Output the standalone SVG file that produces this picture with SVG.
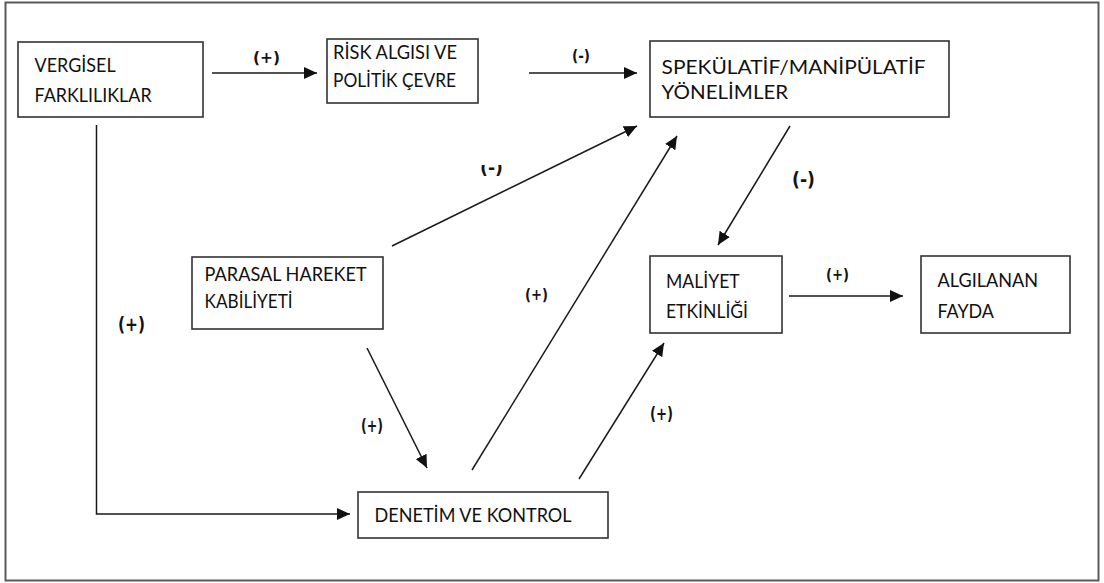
<svg xmlns="http://www.w3.org/2000/svg" width="1104" height="583" viewBox="0 0 1104 583">
<style>
.frame{fill:#fff;stroke:#5a5a5a;stroke-width:2}
.box{fill:#fff;stroke:#333;stroke-width:1.6}
.t{font-family:Lato,"Liberation Sans",sans-serif;font-size:18.5px;fill:#111}
.lbl{font-family:"DejaVu Sans","Liberation Sans",sans-serif;font-weight:bold;fill:#141414}
.c{fill:none;stroke:#1a1a1a;stroke-width:1.5}
</style>
<defs>
<marker id="ah" markerUnits="userSpaceOnUse" markerWidth="14" markerHeight="12" refX="13" refY="6" orient="auto">
<path d="M0,0 L13,6 L0,12 Z" fill="#111"/>
</marker>
<clipPath id="clipTop"><rect x="470" y="165" width="45" height="20"/></clipPath>
</defs>
<rect class="frame" x="5.5" y="2.5" width="1093" height="578"/>

<g id="node-vergisel">
<rect class="box" x="18" y="42" width="185" height="75"/>
<text class="t" x="34.6" y="71.7" textLength="81" lengthAdjust="spacingAndGlyphs">VERGİSEL</text>
<text class="t" x="34.6" y="101.7" textLength="117" lengthAdjust="spacingAndGlyphs">FARKLILIKLAR</text>
</g>
<g id="node-risk">
<rect class="box" x="327" y="39" width="151" height="64"/>
<text class="t" x="333" y="58.5" textLength="124" lengthAdjust="spacingAndGlyphs">RİSK ALGISI VE</text>
<text class="t" x="333" y="86.5" textLength="123" lengthAdjust="spacingAndGlyphs">POLİTİK ÇEVRE</text>
</g>
<g id="node-spekulatif">
<rect class="box" x="650" y="41" width="299" height="76"/>
<text class="t" x="661.6" y="74" textLength="264" lengthAdjust="spacingAndGlyphs">SPEKÜLATİF/MANİPÜLATİF</text>
<text class="t" x="661.6" y="99.3" textLength="126.6" lengthAdjust="spacingAndGlyphs">YÖNELİMLER</text>
</g>
<g id="node-parasal">
<rect class="box" x="192" y="257" width="191" height="72"/>
<text class="t" x="204.6" y="280.7" textLength="162" lengthAdjust="spacingAndGlyphs">PARASAL HAREKET</text>
<text class="t" x="204.6" y="307.7" textLength="88" lengthAdjust="spacingAndGlyphs">KABİLİYETİ</text>
</g>
<g id="node-maliyet">
<rect class="box" x="650" y="256" width="132" height="77"/>
<text class="t" x="666" y="288.3" textLength="73.7" lengthAdjust="spacingAndGlyphs">MALİYET</text>
<text class="t" x="666" y="318.3" textLength="82" lengthAdjust="spacingAndGlyphs">ETKİNLİĞİ</text>
</g>
<g id="node-algilanan">
<rect class="box" x="921" y="256" width="149" height="77"/>
<text class="t" x="937.5" y="287" textLength="100.7" lengthAdjust="spacingAndGlyphs">ALGILANAN</text>
<text class="t" x="937.5" y="318" textLength="56.5" lengthAdjust="spacingAndGlyphs">FAYDA</text>
</g>
<g id="node-denetim">
<rect class="box" x="358" y="492" width="250" height="46"/>
<text class="t" x="374.6" y="521.7" textLength="197" lengthAdjust="spacingAndGlyphs">DENETİM VE KONTROL</text>
</g>

<g id="connectors">
<line class="c" x1="212" y1="73" x2="317" y2="73" marker-end="url(#ah)"/>
<line class="c" x1="529" y1="73" x2="637" y2="73" marker-end="url(#ah)"/>
<line class="c" x1="790" y1="126" x2="718" y2="245" marker-end="url(#ah)"/>
<line class="c" x1="789" y1="296" x2="903" y2="296" marker-end="url(#ah)"/>
<line class="c" x1="392" y1="246" x2="637" y2="126" marker-end="url(#ah)"/>
<line class="c" x1="367" y1="348" x2="427" y2="468" marker-end="url(#ah)"/>
<line class="c" x1="472" y1="470" x2="677" y2="136" marker-end="url(#ah)"/>
<line class="c" x1="579" y1="479" x2="664" y2="343" marker-end="url(#ah)"/>
<polyline class="c" points="96.5,125 96.5,514 350,514" marker-end="url(#ah)"/>
</g>

<g id="labels">
<text class="lbl" x="253" y="63" font-size="15" textLength="27" lengthAdjust="spacingAndGlyphs">(+)</text>
<text class="lbl" x="572" y="61" font-size="16" textLength="18" lengthAdjust="spacingAndGlyphs">(-)</text>
<text class="lbl" x="480" y="174" font-size="17" textLength="23" lengthAdjust="spacingAndGlyphs" clip-path="url(#clipTop)">(-)</text>
<text class="lbl" x="792" y="185.5" font-size="19" textLength="23" lengthAdjust="spacingAndGlyphs">(-)</text>
<text class="lbl" x="361" y="431.5" font-size="18" textLength="22" lengthAdjust="spacingAndGlyphs">(+)</text>
<text class="lbl" x="525" y="300" font-size="16" textLength="23" lengthAdjust="spacingAndGlyphs">(+)</text>
<text class="lbl" x="118" y="330.5" font-size="20" textLength="27" lengthAdjust="spacingAndGlyphs">(+)</text>
<text class="lbl" x="826" y="280" font-size="16" textLength="23" lengthAdjust="spacingAndGlyphs">(+)</text>
<text class="lbl" x="650" y="420" font-size="17" textLength="23" lengthAdjust="spacingAndGlyphs">(+)</text>
</g>
</svg>
